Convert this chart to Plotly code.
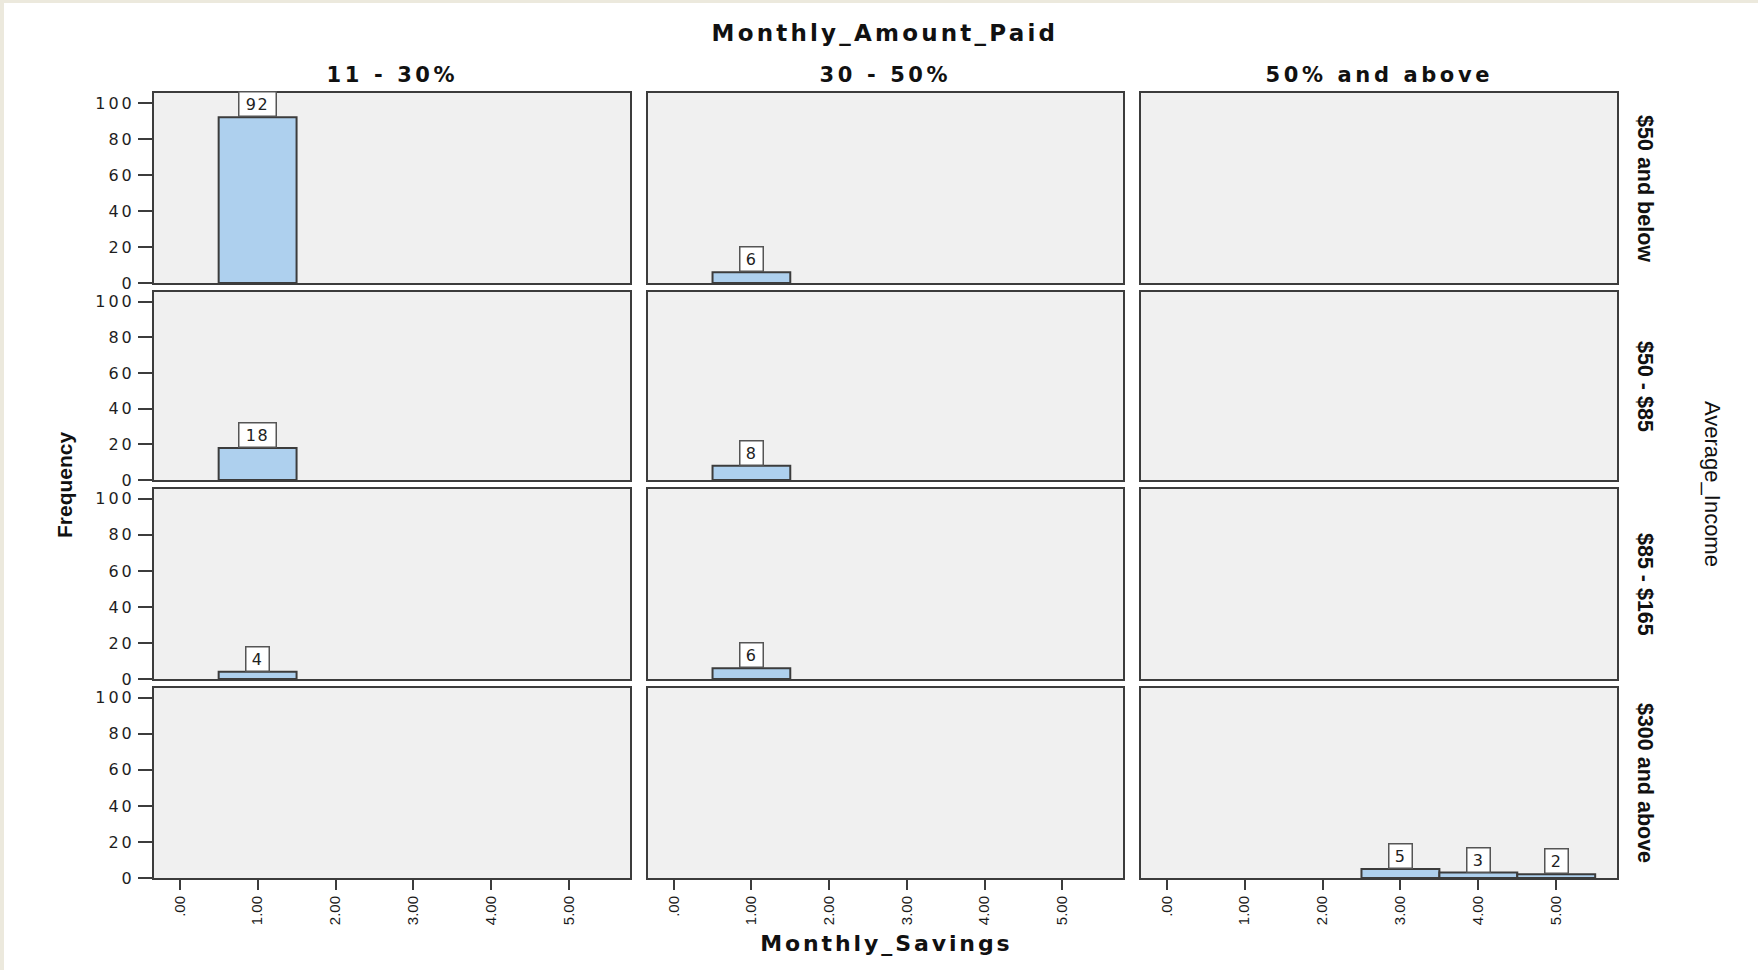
import json
import plotly.graph_objects as go

# ---- data ----
income_levels = ["$50 and below", "$50 - $85", "$85 - $165", "$300 and above"]
amount_paid = ["11 - 30%", "30 - 50%", "50% and above"]

cell_income = ["$50 and below", "$50 and below", "$50 - $85", "$50 - $85",
               "$85 - $165", "$85 - $165", "$300 and above", "$300 and above", "$300 and above"]
cell_paid = ["11 - 30%", "30 - 50%", "11 - 30%", "30 - 50%",
             "11 - 30%", "30 - 50%", "50% and above", "50% and above", "50% and above"]
cell_savings = [1, 1, 1, 1, 1, 1, 3, 4, 5]
cell_freq = [92, 6, 18, 8, 4, 6, 5, 3, 2]

x_tick_vals = [0, 1, 2, 3, 4, 5]
x_tick_text = [".00", "1.00", "2.00", "3.00", "4.00", "5.00"]
y_tick_vals = [0, 20, 40, 60, 80, 100]

main_title = "Monthly_Amount_Paid"
x_title = "Monthly_Savings"
y_title = "Frequency"
row_title = "Average_Income"

# ---- layout geometry (pixels) ----
W, H = 1758, 980
col_px = [(154, 630), (648, 1123), (1141, 1617)]
row_px = [(94, 286), (295, 485), (494, 686), (695, 887)]

BAR_FILL = "#aed0ee"
LINE = "#3c3c3c"
PANEL_BG = "#f0f0f0"

fig = go.Figure()
layout_axes = {}
annotations = []
spacing = {}  # annotation index -> letter spacing (px)

for r in range(4):
    for c in range(3):
        n = r * 3 + c + 1
        xa = "xaxis" if n == 1 else f"xaxis{n}"
        ya = "yaxis" if n == 1 else f"yaxis{n}"
        xr = "x" if n == 1 else f"x{n}"
        yr = "y" if n == 1 else f"y{n}"
        x0, x1 = col_px[c]
        y0, y1 = row_px[r]
        bottom = (r == 3)
        layout_axes[xa] = dict(
            domain=[x0 / W, x1 / W], anchor=yr, range=[-0.33, 5.78],
            showgrid=False, zeroline=False, showline=True, mirror=True,
            linecolor=LINE, linewidth=2,
            tickmode="array", tickvals=x_tick_vals, ticktext=x_tick_text,
            ticks="outside" if bottom else "", ticklen=10, tickwidth=2, tickcolor=LINE,
            showticklabels=bottom, tickangle=-90, ticklabelstandoff=0,
            tickfont=dict(family="Liberation Sans", size=15, color="#1a1a1a"),
            fixedrange=True,
        )
        layout_axes[ya] = dict(
            domain=[1 - y1 / H, 1 - y0 / H], anchor=xr, range=[0, 105.5],
            showgrid=False, zeroline=False, showline=True, mirror=True,
            linecolor=LINE, linewidth=2,
            tickmode="array", tickvals=y_tick_vals,
            ticks="outside" if c == 0 else "", ticklen=14, tickwidth=2, tickcolor=LINE,
            showticklabels=(c == 0), ticklabelstandoff=0,
            tickfont=dict(family="DejaVu Sans", size=16, color="#1e1e1e"),
            fixedrange=True,
        )
        xs, ys = [], []
        for inc, paid, sv, fq in zip(cell_income, cell_paid, cell_savings, cell_freq):
            if inc == income_levels[r] and paid == amount_paid[c]:
                xs.append(sv)
                ys.append(fq)
                spacing[len(annotations)] = 1.5
                annotations.append(dict(
                    x=sv, y=fq, xref=xr, yref=yr, text=str(fq), showarrow=False,
                    yanchor="bottom", xanchor="center",
                    bgcolor="white", bordercolor="#555", borderwidth=1.5, borderpad=1,
                    width=34 if len(str(fq)) > 1 else 20, height=21,
                    font=dict(family="DejaVu Sans", size=16, color="#222"),
                ))
        fig.add_trace(go.Bar(
            x=xs, y=ys, xaxis=xr, yaxis=yr, width=1,
            marker=dict(color=BAR_FILL, line=dict(color=LINE, width=2)),
            showlegend=False, hoverinfo="x+y",
        ))

# column titles
for c, name in enumerate(amount_paid):
    x0, x1 = col_px[c]
    spacing[len(annotations)] = 3.6
    annotations.append(dict(
        x=(x0 + x1) / 2 / W, y=1 - 76 / H, xref="paper", yref="paper",
        text=f"<b>{name}</b>", showarrow=False, xanchor="center", yanchor="middle",
        font=dict(family="DejaVu Sans", size=21, color="#111"),
    ))

# row titles
for r, name in enumerate(income_levels):
    y0, y1 = row_px[r]
    annotations.append(dict(
        x=1645 / W, y=1 - (y0 + y1) / 2 / H, xref="paper", yref="paper",
        text=f"<b>{name}</b>", showarrow=False, textangle=90,
        xanchor="center", yanchor="middle",
        font=dict(family="Liberation Sans", size=21.5, color="#111"),
    ))

spacing[len(annotations)] = 3.2
annotations.append(dict(
    x=885 / W, y=1 - 33 / H, xref="paper", yref="paper", text=f"<b>{main_title}</b>",
    showarrow=False, xanchor="center", yanchor="middle",
    font=dict(family="DejaVu Sans", size=23, color="#111")))
spacing[len(annotations)] = 2.9
annotations.append(dict(
    x=886 / W, y=1 - 953 / H, xref="paper", yref="paper", text=f"<b>{x_title}</b>",
    showarrow=False, xanchor="center", yanchor="middle",
    font=dict(family="DejaVu Sans", size=22, color="#111")))
annotations.append(dict(
    x=64 / W, y=1 - 490 / H, xref="paper", yref="paper", text=f"<b>{y_title}</b>",
    showarrow=False, textangle=-90, xanchor="center", yanchor="middle",
    font=dict(family="Liberation Sans", size=21, color="#111")))
annotations.append(dict(
    x=1713 / W, y=1 - 489 / H, xref="paper", yref="paper", text=row_title,
    showarrow=False, textangle=90, xanchor="center", yanchor="middle",
    font=dict(family="Liberation Sans", size=22, color="#111")))

shapes = []
for r in range(4):
    for c in range(3):
        x0, x1 = col_px[c]
        y0, y1 = row_px[r]
        shapes.append(dict(type="rect", xref="paper", yref="paper", layer="below",
                           x0=x0 / W, x1=x1 / W, y0=1 - y1 / H, y1=1 - y0 / H,
                           fillcolor=PANEL_BG, line=dict(width=0)))
# beige frame strips at left and top
shapes.append(dict(type="rect", xref="paper", yref="paper", x0=0, x1=4 / W, y0=0, y1=1,
                   fillcolor="#ece9dd", line=dict(width=0), layer="below"))
shapes.append(dict(type="rect", xref="paper", yref="paper", x0=0, x1=1, y0=1 - 3 / H, y1=1,
                   fillcolor="#ece9dd", line=dict(width=0), layer="below"))

fig.update_layout(
    width=W, height=H, margin=dict(l=0, r=0, t=0, b=0),
    paper_bgcolor="white", plot_bgcolor=PANEL_BG,
    annotations=annotations, shapes=shapes, barmode="overlay",
    **layout_axes,
)

post_js = """
document.body.style.margin = '0';
document.body.style.overflow = 'hidden';
var gd = document.getElementById('{plot_id}');
var SP = __SP__;
function applySpacing() {
  gd.querySelectorAll('g.annotation').forEach(function (g) {
    var i = g.getAttribute('data-index');
    if (SP[i] !== undefined) {
      g.querySelectorAll('text').forEach(function (t) { t.style.letterSpacing = SP[i] + 'px'; });
    }
  });
  gd.querySelectorAll('g.yaxislayer-above text').forEach(function (t) { t.style.letterSpacing = '3px'; });
}
applySpacing();
gd.on('plotly_afterplot', applySpacing);
""".replace("__SP__", json.dumps({str(k): v for k, v in spacing.items()}))

fig.write_html("out.html", config={"displayModeBar": False}, post_script=post_js)
